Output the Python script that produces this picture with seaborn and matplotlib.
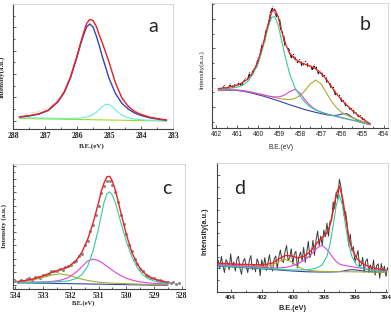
import matplotlib
matplotlib.use("Agg")
import matplotlib.pyplot as plt
import seaborn as sns
from matplotlib.ticker import MultipleLocator, FixedLocator, NullFormatter, FormatStrFormatter

# ---- panel a : C 1s ----
a_x = [287.8, 287.5, 287.2, 286.9, 286.6, 286.4, 286.2, 286.0, 285.9, 285.8, 285.7, 285.6, 285.5,
       285.4, 285.3, 285.2, 285.0, 284.8, 284.6, 284.4, 284.2, 284.0, 283.7, 283.4, 283.2]
a_red = [12.2, 13.3, 15.1, 18.9, 27.4, 37.0, 52.3, 73.2, 84.8, 95.5, 105.5, 109.5, 108.5,
         103.0, 93.6, 85.4, 67.0, 46.3, 31.2, 22.7, 17.4, 14.5, 11.6, 9.9, 9.1]
a_blue = [12.0, 13.0, 14.8, 18.5, 26.9, 36.4, 51.4, 71.9, 83.3, 93.5, 102.2, 105.0, 102.1,
          93.3, 82.9, 71.5, 50.8, 35.6, 25.8, 20.0, 16.0, 13.5, 11.0, 9.5, 8.8]
a_green = [10.5, 10.34, 10.17, 10.01, 9.85, 9.74, 9.63, 9.52, 9.47, 9.41, 9.36, 9.31, 9.25,
           9.2, 9.14, 9.09, 8.98, 8.87, 8.76, 8.65, 8.55, 8.44, 8.27, 8.11, 8.0]
a_cyan_x = [287.8, 287.0, 286.4, 286.0, 285.8, 285.6, 285.5, 285.4, 285.3, 285.2, 285.1, 285.0,
            284.9, 284.8, 284.7, 284.6, 284.4, 284.2, 283.8, 283.2]
a_cyan = [11.3, 10.9, 10.6, 10.8, 11.3, 12.9, 14.5, 16.7, 19.6, 22.8, 24.6, 24.6,
          22.6, 19.3, 16.3, 14.0, 11.1, 9.8, 8.9, 8.2]
a_pts_x = [287.7, 287.5, 287.3, 287.1, 286.9, 286.7, 286.5, 286.3, 286.1, 285.95, 285.8, 285.7, 285.6,
           285.5, 285.4, 285.3, 285.15, 285.0, 284.85, 284.7, 284.5, 284.3, 284.1, 283.9, 283.7, 283.5, 283.3]
a_pts_y = [13.0, 15.8, 16.5, 19.0, 20.9, 26.0, 33.0, 44.0, 63.5, 78.5, 96.5, 105.8, 110.6,
           107.9, 100.0, 94.1, 80.0, 68.0, 50.5, 39.0, 26.0, 21.2, 17.0, 14.0, 10.8, 10.8, 9.0]

# ---- panel b : Ti 2p ----
b_x = [461.9, 461.5, 461.0, 460.75, 460.5, 460.25, 460.0, 459.75, 459.5, 459.35, 459.2, 459.05, 458.9,
       458.75, 458.5, 458.25, 458.0, 457.75, 457.5, 457.25, 457.0, 456.75, 456.5, 456.25, 456.0,
       455.75, 455.5, 455.25, 455.0, 454.65]
b_red = [39.5, 40.5, 43.0, 45.5, 49.0, 55.9, 67.1, 84.9, 106.3, 116.5, 119.0, 112.0, 99.5,
         87.5, 75.0, 69.5, 66.0, 64.0, 62.0, 59.5, 55.0, 49.0, 41.5, 34.0, 28.0,
         22.5, 17.5, 13.0, 9.0, 4.0]
b_teal = [38.8, 39.3, 41.0, 42.8, 46.5, 54.0, 64.8, 82.2, 102.8, 111.3, 111.6, 103.7, 90.1,
          75.4, 54.8, 40.8, 32.2, 25.5, 21.0, 18.0, 16.0, 14.5, 13.0, 11.8, 10.5,
          9.3, 8.0, 6.7, 5.3, 3.5]
b_mag = [38.2, 38.3, 38.0, 37.5, 36.5, 35.5, 34.3, 33.1, 32.0, 31.5, 31.2, 31.2, 31.8,
         33.0, 36.4, 38.8, 35.1, 28.0, 22.3, 18.5, 16.0, 14.2, 12.7, 11.4, 10.1,
         8.9, 7.75, 6.5, 5.1, 3.3]
b_olive = [38.4, 38.5, 38.2, 37.7, 36.9, 35.8, 34.6, 33.4, 32.1, 31.3, 30.6, 29.9, 29.3,
           28.9, 28.6, 29.6, 32.6, 37.8, 44.4, 48.1, 44.5, 35.6, 26.8, 20.2, 15.6,
           12.6, 10.3, 8.4, 6.6, 4.4]
b_navy = [38.0, 38.0, 37.6, 37.0, 36.0, 34.8, 33.4, 32.0, 30.4, 29.4, 28.4, 27.4, 26.3,
          25.2, 23.4, 21.7, 20.0, 18.4, 17.0, 15.7, 14.5, 13.4, 12.6, 12.7, 14.1,
          14.3, 10.8, 7.6, 5.5, 3.4]
b_data_x = [461.9, 461.8, 461.7, 461.6, 461.5, 461.4, 461.3, 461.2, 461.1, 461.0,
            460.9, 460.8, 460.7, 460.6, 460.5, 460.4, 460.3, 460.2, 460.1, 460.0,
            459.9, 459.8, 459.7, 459.6, 459.5, 459.4, 459.3, 459.2, 459.1, 459.0,
            458.9, 458.8, 458.7, 458.6, 458.5, 458.4, 458.3, 458.2, 458.1, 458.0,
            457.9, 457.8, 457.7, 457.6, 457.5, 457.4, 457.3, 457.2, 457.1, 457.0,
            456.9, 456.8, 456.7, 456.6, 456.5, 456.4, 456.3, 456.2, 456.1, 456.0,
            455.9, 455.8, 455.7, 455.6, 455.5, 455.4, 455.3, 455.2, 455.1, 455.0,
            454.9, 454.8, 454.7]
b_data_y = [41.0, 37.7, 40.4, 42.2, 39.0, 40.5, 44.0, 40.0, 43.5, 42.0,
            45.8, 42.3, 46.5, 49.0, 48.0, 55.3, 52.7, 59.1, 59.6, 69.1,
            72.7, 84.3, 86.7, 99.2, 102.8, 115.5, 121.3, 117.0, 111.5, 111.3,
            98.0, 94.0, 82.0, 81.0, 77.0, 70.3, 73.6, 67.8, 65.4, 68.5,
            62.2, 65.9, 66.6, 60.8, 62.5, 58.5, 63.0, 59.6, 53.8, 57.0,
            51.6, 52.7, 45.5, 46.0, 40.0, 40.5, 33.0, 33.8, 32.4, 26.5,
            27.3, 21.6, 22.5, 18.5, 19.5, 14.2, 14.9, 11.2, 12.1, 8.5,
            8.5, 5.2, 5.3]

# ---- panel c : O 1s ----
c_x = [533.9, 533.6, 533.3, 533.0, 532.7, 532.4, 532.1, 531.8, 531.6, 531.4, 531.2, 531.0, 530.9, 530.8,
       530.7, 530.6, 530.5, 530.4, 530.3, 530.2, 530.0, 529.8, 529.6, 529.4, 529.2, 529.0, 528.75, 528.5]
c_red = [8.0, 9.0, 10.8, 13.5, 16.8, 19.7, 22.2, 29.2, 37.2, 49.5, 66.3, 86.8, 98.5, 106.5,
         112.5, 113.0, 108.0, 99.5, 88.5, 77.0, 55.0, 37.0, 25.0, 17.5, 13.0, 10.3, 8.3, 7.0]
c_teal = [6.8, 6.8, 6.9, 7.0, 7.3, 7.6, 8.4, 10.8, 14.8, 22.8, 38.3, 61.0, 74.5, 87.2,
          95.5, 97.5, 94.0, 87.0, 77.5, 67.0, 48.0, 32.5, 21.5, 14.5, 10.5, 8.3, 6.7, 5.7]
c_mag = [7.1, 7.15, 7.2, 7.4, 7.85, 8.9, 11.55, 17.35, 22.75, 28.15, 30.25, 28.55, 27.0, 25.05,
         23.0, 20.95, 18.9, 17.05, 15.3, 13.65, 11.15, 9.3, 7.95, 7.05, 6.45, 5.95, 5.55, 5.2]
c_olive = [7.6, 8.4, 9.8, 12.0, 14.3, 15.4, 14.2, 11.7, 10.1, 8.9, 7.9, 7.15, 6.9, 6.65,
           6.5, 6.3, 6.2, 6.0, 5.9, 5.8, 5.6, 5.4, 5.2, 5.05, 4.9, 4.7, 4.55, 4.35]
c_navy = [6.5, 6.35, 6.2, 6.1, 5.95, 5.8, 5.65, 5.55, 5.45, 5.35, 5.25, 5.15, 5.1, 5.05,
          5.0, 4.95, 4.9, 4.85, 4.8, 4.75, 4.65, 4.55, 4.45, 4.35, 4.25, 4.15, 4.1, 4.0]
c_data_x = [534.0, 533.9, 533.8, 533.7, 533.6, 533.5, 533.4, 533.3, 533.2, 533.1,
            533.0, 532.9, 532.8, 532.7, 532.6, 532.5, 532.4, 532.3, 532.2, 532.1,
            532.0, 531.9, 531.8, 531.7, 531.6, 531.5, 531.4, 531.3, 531.2, 531.1,
            531.0, 530.9, 530.8, 530.7, 530.6, 530.5, 530.4, 530.3, 530.2, 530.1,
            530.0, 529.9, 529.8, 529.7, 529.6, 529.5, 529.4, 529.3, 529.2, 529.1,
            529.0, 528.9, 528.8, 528.7, 528.6, 528.5, 528.4, 528.3, 528.2, 528.1]
c_data_y = [8.2, 7.2, 9.5, 8.3, 9.9, 11.1, 9.6, 12.6, 12.1, 11.6,
            14.8, 14.8, 15.0, 18.4, 18.3, 18.3, 20.8, 19.6, 22.0, 23.6,
            24.0, 27.6, 28.0, 33.5, 35.7, 44.3, 48.7, 58.5, 64.5, 74.0,
            83.8, 96.5, 103.0, 108.0, 108.0, 104.5, 97.5, 87.0, 74.5, 65.0,
            55.5, 44.8, 38.0, 30.4, 25.8, 20.8, 18.7, 14.7, 13.7, 11.3,
            11.2, 8.9, 9.1, 8.8, 7.0, 7.6, 6.4, 6.9, 5.7, 6.2]

# ---- panel d : N 1s ----
d_x = [404.8, 404.3, 403.8, 403.3, 402.8, 402.3, 401.8, 401.3, 400.9, 400.5, 400.1, 399.7, 399.3, 399.0,
       398.7, 398.4, 398.1, 397.8, 397.6, 397.4, 397.2, 397.0, 396.8, 396.6, 396.4, 396.2, 395.9,
       395.6, 395.2, 394.8, 394.4, 394.0]
d_red = [28.8, 28.4, 28.0, 27.6, 27.4, 27.2, 27.4, 29.0, 33.1, 36.45, 36.2, 34.1, 35.6, 38.8,
         43.7, 49.8, 54.5, 58.8, 66.95, 81.0, 97.85, 105.7, 94.9, 74.5, 56.05, 43.6, 33.95,
         29.5, 26.1, 24.1, 22.8, 21.6]
d_teal = [26.3, 25.8, 25.3, 24.8, 24.4, 23.9, 23.4, 23.0, 22.6, 22.25, 22.1, 22.0, 22.1, 22.4,
          23.2, 24.5, 27.2, 35.8, 48.0, 66.5, 86.8, 97.0, 86.8, 66.5, 48.0, 35.8, 27.2,
          24.2, 22.4, 21.6, 21.0, 20.5]
d_mag = [27.5, 27.0, 26.5, 26.0, 25.5, 25.0, 24.5, 24.0, 24.0, 24.5, 25.8, 28.0, 31.5, 35.0,
         39.5, 44.5, 46.7, 42.5, 38.5, 34.0, 30.5, 28.0, 27.0, 26.3, 25.8, 25.3, 24.6,
         23.9, 22.9, 22.0, 21.2, 20.5]
d_olive = [27.0, 26.6, 26.2, 25.8, 25.5, 25.3, 25.5, 27.0, 30.5, 32.7, 30.5, 25.5, 22.8, 21.8,
           21.2, 20.8, 20.6, 20.5, 20.45, 20.4, 20.35, 20.3, 20.3, 20.3, 20.25, 20.2, 20.15,
           20.1, 20.0, 19.9, 19.7, 19.6]
d_navy = [26.0, 25.5, 25.0, 24.5, 24.0, 23.5, 23.0, 22.5, 22.0, 21.5, 21.1, 20.7, 20.4, 20.2,
          20.1, 20.0, 20.0, 20.0, 20.0, 20.1, 20.2, 20.4, 20.8, 21.4, 22.0, 22.3, 22.0,
          21.3, 20.5, 20.0, 19.7, 19.5]
d_data_x = [404.8, 404.7, 404.6, 404.5, 404.4, 404.3, 404.2, 404.1, 404.0, 403.9,
            403.8, 403.7, 403.6, 403.5, 403.4, 403.3, 403.2, 403.1, 403.0, 402.9,
            402.8, 402.7, 402.6, 402.5, 402.4, 402.3, 402.2, 402.1, 402.0, 401.9,
            401.8, 401.7, 401.6, 401.5, 401.4, 401.3, 401.2, 401.1, 401.0, 400.9,
            400.8, 400.7, 400.6, 400.5, 400.4, 400.3, 400.2, 400.1, 400.0, 399.9,
            399.8, 399.7, 399.6, 399.5, 399.4, 399.3, 399.2, 399.1, 399.0, 398.9,
            398.8, 398.7, 398.6, 398.5, 398.4, 398.3, 398.2, 398.1, 398.0, 397.9,
            397.8, 397.7, 397.6, 397.5, 397.4, 397.3, 397.2, 397.1, 397.0, 396.9,
            396.8, 396.7, 396.6, 396.5, 396.4, 396.3, 396.2, 396.1, 396.0, 395.9,
            395.8, 395.7, 395.6, 395.5, 395.4, 395.3, 395.2, 395.1, 395.0, 394.9,
            394.8, 394.7, 394.6, 394.5, 394.4, 394.3, 394.2, 394.1, 394.0, 393.9, 393.8]
d_data_y = [31.8, 23.7, 35.6, 26.6, 19.5, 32.4, 29.3, 22.2, 38.2, 25.1,
            30.0, 20.9, 32.8, 35.8, 23.7, 17.6, 30.6, 33.5, 25.5, 19.4,
            31.4, 36.4, 22.3, 27.3, 20.2, 33.2, 29.2, 16.3, 32.3, 24.4,
            34.4, 21.7, 29.0, 37.3, 24.7, 21.0, 33.0, 36.0, 23.0, 35.1,
            42.0, 31.8, 29.6, 40.4, 46.4, 31.3, 34.3, 43.2, 27.7, 38.2,
            40.6, 24.1, 35.5, 39.9, 31.2, 44.6, 29.6, 39.7, 50.8, 34.4,
            39.0, 51.7, 36.7, 51.8, 60.8, 46.4, 55.9, 46.5, 61.9, 55.4,
            68.8, 55.9, 71.0, 71.0, 90.0, 83.4, 99.9, 92.8, 112.7, 105.3,
            90.9, 76.7, 80.5, 68.3, 46.1, 57.8, 41.6, 45.4, 30.1, 35.0,
            41.5, 26.0, 26.5, 34.7, 19.8, 31.0, 33.1, 19.6, 27.1, 20.6,
            32.1, 16.8, 26.5, 28.1, 13.8, 28.5, 20.2, 25.9, 15.6, 24.3, 20.1]

RED = '#ee2222'
TEAL = '#33cc99'
MAG = '#dd44dd'
OLIVE = '#aaaa33'
NAVY = '#3344aa'

sns.set_style("ticks")
plt.rcParams['font.family'] = ['Liberation Sans', 'DejaVu Sans']

W, H = 391, 312
fig = plt.figure(figsize=(W / 100, H / 100), dpi=100)


def make_ax(l, t, r, b):
    return fig.add_axes([l / W, 1 - b / H, (r - l) / W, (b - t) / H])


def style(ax, xlim, ylim, xmaj, xmin, ymaj, ymin, font, weight, size):
    ax.set_xlim(*xlim)
    ax.set_ylim(*ylim)
    ax.xaxis.set_major_locator(MultipleLocator(xmaj))
    ax.xaxis.set_minor_locator(MultipleLocator(xmin))
    ax.xaxis.set_major_formatter(FormatStrFormatter('%d'))
    ax.yaxis.set_major_locator(FixedLocator(ymaj))
    ax.yaxis.set_minor_locator(FixedLocator(ymin))
    ax.yaxis.set_major_formatter(NullFormatter())
    ax.tick_params(which='both', direction='in', color='#444444', width=0.6,
                   top=False, right=False)
    ax.tick_params(which='major', length=2.5, labelsize=size, pad=2, labelcolor='#222222')
    ax.tick_params(which='minor', length=1.3)
    for lab in ax.get_xticklabels():
        lab.set_fontfamily(font)
        lab.set_fontweight(weight)
    for s in ['left', 'bottom']:
        ax.spines[s].set_color('#444444')
        ax.spines[s].set_linewidth(0.8)
    for s in ['top', 'right']:
        ax.spines[s].set_color('#d0d0d0')
        ax.spines[s].set_linewidth(0.6)
    ax.set_xlabel('')
    ax.set_ylabel('')


def line(ax, x, y, c, lw=0.8):
    sns.lineplot(x=x, y=y, color=c, lw=lw, ax=ax, estimator=None)


serif = ['Liberation Serif', 'DejaVu Serif']
sans = ['Liberation Sans', 'DejaVu Sans']

# ---- a ----
ax = make_ax(13, 4, 173, 129)
sns.lineplot(x=a_pts_x, y=a_pts_y, color='#c8c8c8', lw=0.5, ax=ax, estimator=None,
             marker='+', markersize=3, markeredgewidth=0.6)
line(ax, a_x, a_green, '#99dd22')
line(ax, a_cyan_x, a_cyan, '#66eedd')
line(ax, a_x, a_blue, '#3344bb', 1.0)
line(ax, a_x, a_red, RED, 1.0)
style(ax, (288, 283), (0, 125), 1, 0.5, [8.3, 31.7, 55, 78.3, 101.7], [20, 43.3, 66.7, 90, 113.3],
      serif, 'bold', 5.5)
ax.set_xlabel('B.E.(eV)', fontfamily=serif, fontweight='bold', fontsize=5)
ax.xaxis.set_label_coords(0.49, -0.115)
ax.set_ylabel('Intensity(a.u.)', fontfamily=serif, fontweight='bold', fontsize=5)
ax.yaxis.set_label_coords(-0.05, 0.42)

# ---- b ----
ax = make_ax(212, 3, 388, 128)
sns.lineplot(x=b_data_x, y=b_data_y, color='#111111', lw=1.1, ax=ax, estimator=None,
             marker='+', markersize=2.5, markeredgewidth=0.6)
line(ax, b_x, b_navy, NAVY)
line(ax, b_x, b_olive, OLIVE)
line(ax, b_x, b_mag, MAG)
line(ax, b_x, b_teal, TEAL)
line(ax, b_x, b_red, RED, 0.9)
style(ax, (462.2, 453.8), (0, 125.5), 1, 0.5, [21, 50.5, 80, 109.5], [6.3, 35.8, 65.2, 94.7, 124],
      sans, 'normal', 4.8)
ax.set_xlabel('B.E.(eV)', fontfamily=sans, fontsize=4.8)
ax.xaxis.set_label_coords(0.39, -0.13)
ax.set_ylabel('Intensity(a.u.)', fontfamily=sans, fontsize=4.6)
ax.yaxis.set_label_coords(-0.045, 0.47)

# ---- c ----
ax = make_ax(12.7, 164.3, 184.5, 289.3)
line(ax, c_x, c_navy, NAVY)
line(ax, c_x, c_olive, OLIVE)
line(ax, c_x, c_mag, MAG)
line(ax, c_x, c_teal, TEAL)
sns.scatterplot(x=c_data_x, y=c_data_y, color='#8a8a8a', s=5, linewidth=0, ax=ax)
line(ax, c_x, c_red, RED, 1.0)
cmaj = [4, 17.3, 30.6, 43.9, 57.2, 70.5, 83.8, 97.1, 110.4, 123.7]
cmin = [10.65, 23.95, 37.25, 50.55, 63.85, 77.15, 90.45, 103.75, 117.05]
style(ax, (534.1, 527.9), (0, 125), 1, 0.5, cmaj, cmin, serif, 'bold', 5.5)
ax.set_xlabel('B.E.(eV)', fontfamily=serif, fontweight='bold', fontsize=4.6)
ax.xaxis.set_label_coords(0.41, -0.085)
ax.set_ylabel('Intensity (a.u.)', fontfamily=serif, fontweight='bold', fontsize=5)
ax.yaxis.set_label_coords(-0.035, 0.51)

# ---- d ----
ax = make_ax(216.7, 163.3, 387.5, 292)
line(ax, d_data_x, d_data_y, '#3a3a3a', 0.7)
line(ax, d_x, d_navy, NAVY)
line(ax, d_x, d_olive, OLIVE)
line(ax, d_x, d_mag, MAG)
line(ax, d_x, d_teal, TEAL)
line(ax, d_x, d_red, RED, 1.0)
style(ax, (404.9, 393.9), (0, 128.7), 2, 1, [0.3, 23.7, 47, 70.3, 93.7, 117],
      [12, 35.3, 58.7, 82, 105.3], sans, 'bold', 4.6)
ax.set_xlabel('B.E.(eV)', fontfamily=sans, fontweight='bold', fontsize=5.2)
ax.xaxis.set_label_coords(0.445, -0.1)
ax.set_ylabel('Intensity(a.u.)', fontfamily=sans, fontweight='bold', fontsize=5.2)
ax.yaxis.set_label_coords(-0.05, 0.47)

# panel letters
letters = ['a', 'b', 'c', 'd']
letter_pos = [(153, 27), (365, 25), (167, 189), (240, 188)]
for t, (px, py) in zip(letters, letter_pos):
    fig.text(px / W, 1 - py / H, t, ha='center', va='center', fontsize=14,
             family=['Lato', 'Liberation Sans', 'DejaVu Sans'])

fig.savefig('out.png', dpi=100)
